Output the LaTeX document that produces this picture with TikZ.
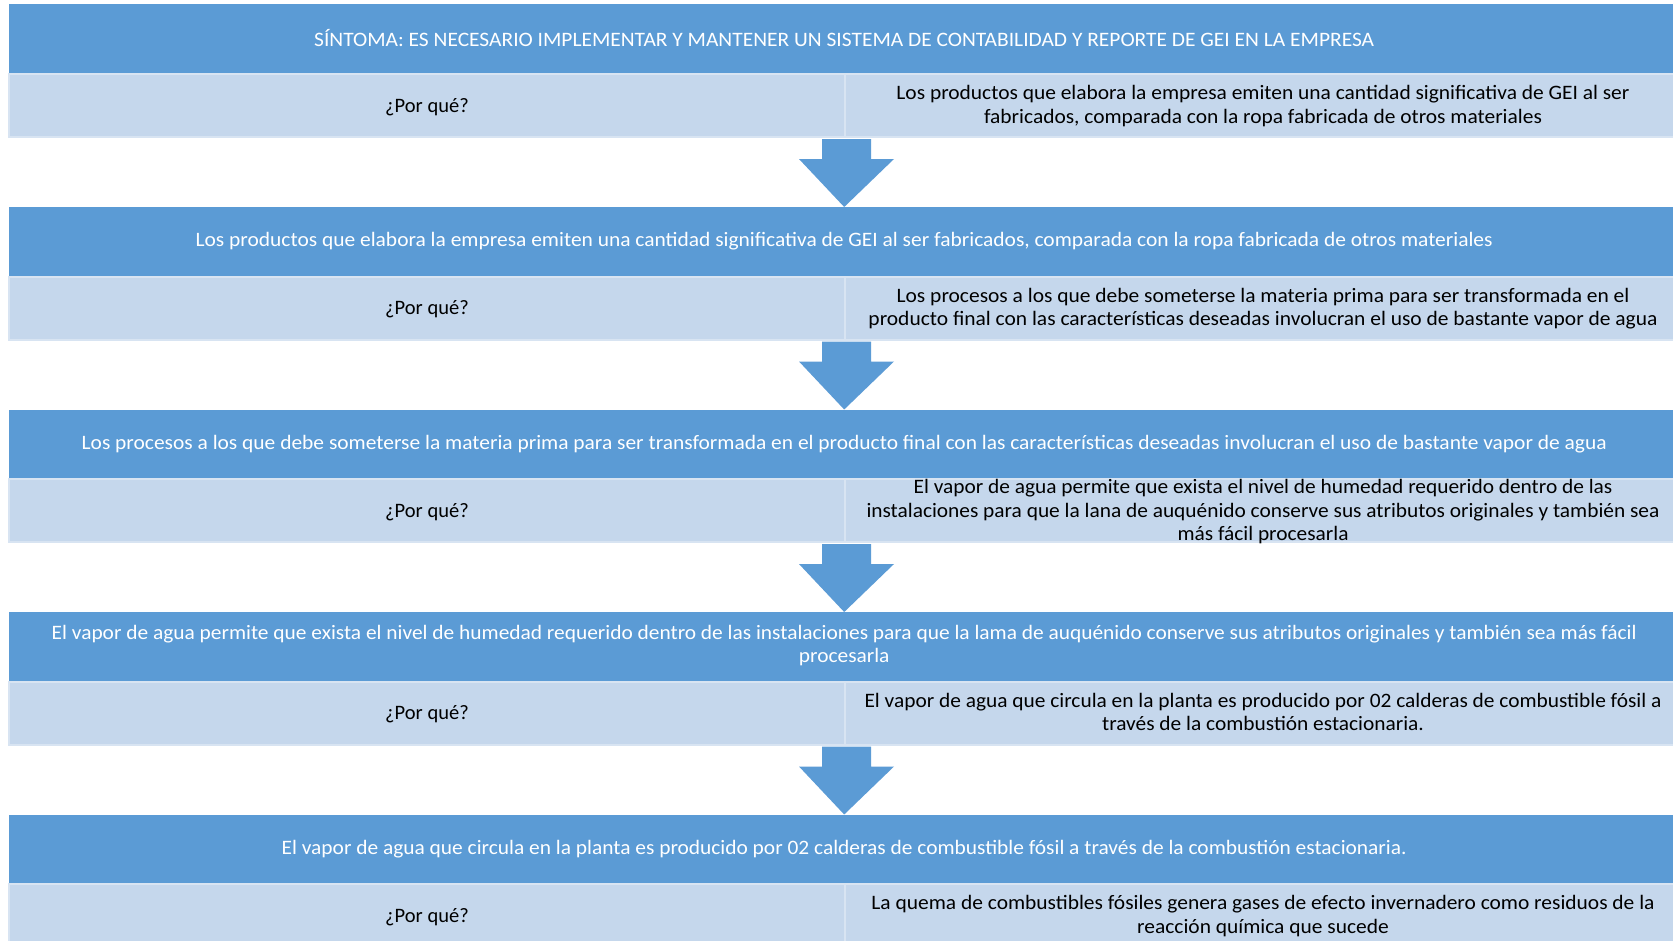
\documentclass[tikz,border=0pt]{standalone}
\usepackage{fontspec}
\usepackage{graphicx}
\setmainfont{Carlito}
\usetikzlibrary{calc}

\definecolor{bandblue}{HTML}{5B9BD5}
\definecolor{cellblue}{HTML}{C5D7EC}
\definecolor{celledge}{HTML}{D8E4F2}

% squeeze a block of text to a given width, keeping its height
\newcommand{\fitw}[2]{\resizebox{#1pt}{\height}{#2}}
\newcommand{\rows}[1]{\begin{tabular}{@{}c@{}}#1\end{tabular}}
% drop text slightly inside its cell without changing the cell's size
\newcommand{\dropin}[1]{\raisebox{-1.5pt}[\height][\depth]{#1}}

\begin{document}
\begin{tikzpicture}[x=1pt,y=-1pt,
  band/.style={fill=bandblue, text=white, anchor=north west, inner sep=0pt,
    minimum width=1670pt, minimum height=68.5pt,
    font=\fontsize{20.5}{23.5}\selectfont},
  cell/.style={fill=cellblue, draw=celledge, line width=2pt, text=black,
    anchor=north west, inner sep=0pt, minimum width=836pt, minimum height=63pt,
    font=\fontsize{20.5}{23.5}\selectfont},
  celltext/.style={inner sep=0pt, text=black, font=\fontsize{20.5}{23.5}\selectfont},
  blockarrow/.style={fill=bandblue, draw=none}]
\useasboundingbox (0,0) rectangle (1673,940);
\clip (0,0) rectangle (1673,940);
\fill[white] (0,0) rectangle (1673,940);

% ---- level 1
\node[band] (b1) at (9,4) {\fitw{1060}{SÍNTOMA: ES NECESARIO IMPLEMENTAR Y MANTENER UN SISTEMA DE CONTABILIDAD Y REPORTE DE GEI EN LA EMPRESA}};
\node[cell] (w1) at (8,73) {\dropin{¿Por qué?}};
\node[cell] (r1) at (844,73) {\dropin{\fitw{733}{\rows{Los productos que elabora la empresa emiten una cantidad significativa de GEI al ser\\fabricados, comparada con la ropa fabricada de otros materiales}}}};

% ---- level 2
\node[band] (b2) at (9,207) {\fitw{1297}{Los productos que elabora la empresa emiten una cantidad significativa de GEI al ser fabricados, comparada con la ropa fabricada de otros materiales}};
\node[cell] (w2) at (8,275.5) {\dropin{¿Por qué?}};
\node[cell] (r2) at (844,275.5) {\dropin{\fitw{789}{\rows{Los procesos a los que debe someterse la materia prima para ser transformada en el\\producto final con las características deseadas involucran el uso de bastante vapor de agua}}}};

% ---- level 3
\node[band] (b3) at (9,409.5) {\fitw{1525}{Los procesos a los que debe someterse la materia prima para ser transformada en el producto final con las características deseadas involucran el uso de bastante vapor de agua}};
\node[cell] (w3) at (8,478) {\dropin{¿Por qué?}};
\node[cell] (r3) at (844,478) {};
\node[celltext] (t3) at ($(r3.center)+(0,2)$) {\fitw{793}{\rows{El vapor de agua permite que exista el nivel de humedad requerido dentro de las\\instalaciones para que la lana de auquénido conserve sus atributos originales y también sea\\más fácil procesarla}}};

% ---- level 4
\node[band] (b4) at (9,612) {\fitw{1585}{\rows{El vapor de agua permite que exista el nivel de humedad requerido dentro de las instalaciones para que la lama de auquénido conserve sus atributos originales y también sea más fácil\\procesarla}}};
\node[cell] (w4) at (8,680.5) {\dropin{¿Por qué?}};
\node[cell] (r4) at (844,680.5) {\dropin{\fitw{797}{\rows{El vapor de agua que circula en la planta es producido por 02 calderas de combustible fósil a\\través de la combustión estacionaria.}}}};

% ---- level 5
\node[band] (b5) at (9,814.5) {\fitw{1125}{El vapor de agua que circula en la planta es producido por 02 calderas de combustible fósil a través de la combustión estacionaria.}};
\node[cell] (w5) at (8,883) {\dropin{¿Por qué?}};
\node[cell] (r5) at (844,883) {\dropin{\fitw{783}{\rows{La quema de combustibles fósiles genera gases de efecto invernadero como residuos de la\\reacción química que sucede}}}};

% ---- block arrows from each "why" row down to the next level
\foreach \a/\b in {w1/b2, w2/b3, w3/b4, w4/b5}{
  \path[blockarrow]
    ($(\a.south east)+(-24,1)$) -- ($(\a.south east)+(-24,21)$)
    -- ($(\a.south east)+(-47,21)$) -- (\b.north)
    -- ($(\a.south east)+(48,21)$) -- ($(\a.south east)+(25,21)$)
    -- ($(\a.south east)+(25,1)$) -- cycle;
}
\end{tikzpicture}
\end{document}
